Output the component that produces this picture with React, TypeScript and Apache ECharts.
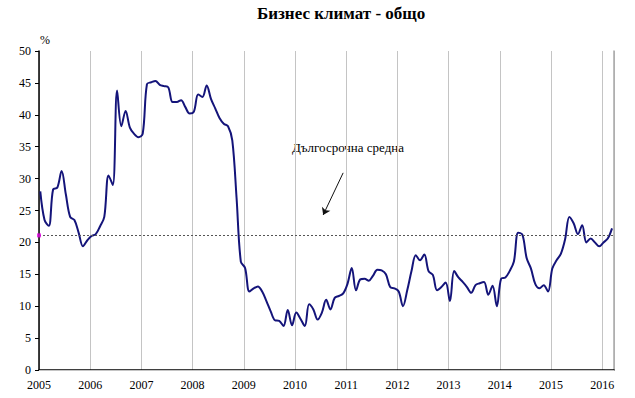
import React, { useEffect, useRef } from "react";
import * as echarts from "echarts";

// Monthly values, Jan 2005 .. Mar 2016
const values2005 = [28.0, 23.5, 22.6, 28.3, 28.6, 31.2, 27.5, 24.0, 23.5, 21.5, 19.4, 20.3];
const values2006 = [21.0, 21.3, 22.5, 24.0, 30.5, 29.0, 43.8, 38.2, 40.6, 38.0, 37.0, 36.5];
const values2007 = [37.0, 44.8, 45.1, 45.3, 44.7, 44.5, 44.3, 42.0, 42.0, 42.3, 41.2, 40.2];
const values2008 = [40.5, 43.2, 42.8, 44.6, 42.5, 41.0, 39.5, 38.6, 38.2, 36.0, 27.0, 17.0];
const values2009 = [16.0, 12.3, 12.8, 13.1, 12.3, 10.8, 9.2, 7.8, 7.7, 6.9, 9.4, 7.0];
const values2010 = [9.0, 8.0, 6.9, 10.3, 9.5, 7.9, 9.0, 11.0, 9.5, 11.3, 11.6, 12.0];
const values2011 = [13.5, 16.0, 12.5, 14.2, 14.3, 14.0, 14.8, 15.7, 15.6, 15.0, 13.0, 12.8];
const values2012 = [12.3, 10.0, 12.5, 15.5, 18.0, 17.2, 18.1, 15.5, 14.9, 12.5, 13.0, 13.7];
const values2013 = [10.8, 15.5, 14.5, 13.8, 13.0, 12.1, 13.3, 13.6, 13.8, 11.8, 13.2, 10.0];
const values2014 = [14.3, 14.5, 15.5, 17.0, 21.5, 21.2, 17.5, 15.9, 13.5, 12.8, 13.3, 12.3];
const values2015 = [15.9, 17.2, 18.2, 20.5, 24.0, 23.0, 21.3, 22.7, 20.0, 20.6, 20.0, 19.4];
const values2016 = [20.0, 20.6, 22.2];

const startYear = 2005;
const longTermAverage = 21.1;
const yearTicks = [2005, 2006, 2007, 2008, 2009, 2010, 2011, 2012, 2013, 2014, 2015, 2016];

const titleText = "Бизнес климат - общо";
const annotationText = "Дългосрочна средна";

const allValues = [
  ...values2005, ...values2006, ...values2007, ...values2008, ...values2009, ...values2010,
  ...values2011, ...values2012, ...values2013, ...values2014, ...values2015, ...values2016,
];

export default function App() {
  const ref = useRef<HTMLDivElement>(null);
  useEffect(() => {
    if (!ref.current) return;
    const chart = echarts.init(ref.current, undefined, { renderer: "svg" });
    const lineData = allValues.map((v, i) => [startYear + (i + 0.3) / 12, v]);
    const font = "'Liberation Serif', 'Times New Roman', serif";
    chart.setOption({
      animation: false,
      backgroundColor: "#ffffff",
      textStyle: { fontFamily: font },
      grid: { left: 39, right: 21, top: 51, bottom: 28, containLabel: false, outerBoundsMode: "none" },
      xAxis: [
        {
          type: "value",
          min: 2005,
          max: 2016.23,
          interval: 1,
          axisLine: { show: true, lineStyle: { color: "#000", width: 1.5 } },
          axisTick: { show: false },
          splitLine: { show: true, lineStyle: { color: "#c4c4c4", width: 1 } },
          axisLabel: {
            color: "#000",
            fontSize: 12,
            fontFamily: font,
            margin: 9,
            showMaxLabel: true,
            formatter: (v: number) => (yearTicks.includes(Math.round(v * 1000) / 1000) ? String(v) : ""),
          },
        },
        {
          type: "value",
          position: "top",
          min: 2005,
          max: 2016.23,
          axisLine: { show: true, lineStyle: { color: "#c4c4c4", width: 1 } },
          axisTick: { show: false },
          axisLabel: { show: false },
          splitLine: { show: false },
        },
      ],
      yAxis: [
        {
          type: "value",
          min: 0,
          max: 50,
          interval: 5,
          name: "%",
          nameLocation: "end",
          nameGap: 5,
          nameTextStyle: { color: "#000", fontSize: 12, fontFamily: font, align: "left", padding: [0, 0, 0, 1] },
          axisLine: { show: true, lineStyle: { color: "#000", width: 1.5 } },
          axisTick: { show: true, length: 4, lineStyle: { color: "#000" } },
          splitLine: { show: false },
          axisLabel: { color: "#000", fontSize: 12, fontFamily: font, margin: 8 },
        },
        {
          type: "value",
          position: "right",
          min: 0,
          max: 50,
          axisLine: { show: true, lineStyle: { color: "#a8a8a8", width: 1.5 } },
          axisTick: { show: false },
          axisLabel: { show: false },
          splitLine: { show: false },
        },
      ],
      series: [
        {
          type: "line",
          data: lineData,
          smooth: 0.35,
          showSymbol: false,
          symbol: "none",
          lineStyle: { color: "#14147a", width: 2 },
          markLine: {
            silent: true,
            symbol: ["none", "none"],
            label: { show: false },
            lineStyle: { color: "#555", type: [2, 2], width: 1 },
            data: [
              { yAxis: longTermAverage },
              [
                {
                  coord: [2010.94, 30.9],
                  symbol: "none",
                  lineStyle: { color: "#111", type: "solid", width: 1 },
                },
                {
                  coord: [2010.55, 24.3],
                  symbol: "arrow",
                  symbolSize: 7,
                  lineStyle: { color: "#111", type: "solid", width: 1 },
                },
              ],
            ],
          },
        },
        {
          type: "scatter",
          data: [[2005, longTermAverage]],
          symbol: "rect",
          symbolSize: 4,
          itemStyle: { color: "#e000e0" },
          z: 5,
        },
      ],
      graphic: [
        {
          type: "text",
          left: 257,
          top: 5,
          style: { text: titleText, fontSize: 17, fontWeight: "bold", fontFamily: font, fill: "#000" },
        },
        {
          type: "text",
          x: 348,
          y: 147,
          style: {
            text: annotationText,
            fontSize: 13,
            fontFamily: font,
            fill: "#000",
            align: "center",
            verticalAlign: "middle",
          },
        },
      ],
    });
    return () => chart.dispose();
  }, []);
  return <div ref={ref} style={{ width: 635, height: 398, position: "absolute", left: 0, top: 0 }} />;
}
